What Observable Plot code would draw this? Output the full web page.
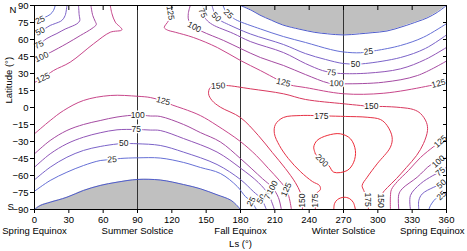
<!DOCTYPE html>
<html><head><meta charset="utf-8">
<script src="https://cdn.jsdelivr.net/npm/d3@7"></script>
<script src="https://cdn.jsdelivr.net/npm/@observablehq/plot@0.6"></script>
<style>
html,body{margin:0;padding:0;background:#fff;}
</style></head><body><div id="chart"></div>
<script>
// ---- axis / tick data ----
const lsTicks = [0,30,60,90,120,150,180,210,240,270,300,330,360];
const latTicks = [90,75,60,45,30,15,0,-15,-30,-45,-60,-75,-90];
const seasonLs = [0,90,180,270];
const seasonNames = ["Spring Equinox","Summer Solstice","Fall Equinox","Winter Solstice"];
const seasonEndLs = [360];
const seasonEndNames = ["Spring Equinox"];
const seasonRules = [90,180,270];
const levels = [0,25,50,75,100,125,150,175,200];
const levelColors = ["#4f5ccc","#6670d6","#7a63c9","#9156b8","#a54ba2","#c8468a","#d9385e","#e63246","#ee2c38"];

// ---- polar night boundaries (Ls, lat) ----
const northNight = [[180,90],[190,85.5],[197,81.5],[207,77],[217,72.8],[232,69],[245,66.3],[256,65],[270,64],[284,65],[295,66],[308,67.5],[322,71.5],[335,76],[343,79],[352,84],[360,90]];
const southNight = [[0,-90],[5,-86.5],[13.7,-83.6],[28.3,-79.2],[42.8,-73.2],[57.4,-68.8],[72.1,-65.9],[90,-63.5],[110,-64],[130.3,-68],[144.9,-71.7],[159.5,-77],[171,-81.5],[176,-85.5],[180,-90]];

// ---- contour lines (Ls, lat) ----
const n25a = [[18.1,90],[16.6,85.6],[13.7,82.1],[9.4,79.7],[5,77.2],[0,75.3]];
const n50a = [[28.3,90],[26.8,81.2],[23.9,76.8],[18.1,74.1],[13.7,72.4],[9.4,69.7],[5,67.1],[0,64.4]];
const n75a = [[38.5,90],[39,82],[39.5,76.5],[37,73.8],[33,71.8],[26.8,69.2],[19.6,65.3],[10.8,60.9],[3.8,55.4],[0,53.4]];
const n100a = [[49.3,90],[50.9,81.2],[53.1,75.9],[54,73.2],[50.2,69.7],[40,63.5],[28.3,56.5],[13.7,48.5],[6.2,44.6],[0,41.5]];
const n125a = [[66.2,90],[67.7,82.7],[70.6,75.3],[76.4,68.6],[66.2,66.4],[51.6,56.2],[31.2,40],[16.6,32.6],[7.4,26],[0,22.1]];

const n25b = [[164.7,90],[166.7,85.6],[169.4,82.5],[172.9,79.4],[177.2,76.8],[197.4,69.3],[217.5,62.6],[236.7,57.4],[258.6,51.2],[269.9,49],[284.8,48.3],[291.8,49.4],[298.8,50.3],[319.8,54.7],[339.9,62],[360,74]];
const n50b = [[155.1,90],[156.7,84.7],[158.9,79.9],[162.4,76.8],[167.6,74.1],[188.6,64.9],[217.5,55.6],[236.7,47.6],[254.2,42.4],[269.9,38.8],[280.4,38.4],[289.2,38.8],[319.8,44.1],[341.6,52.1],[360,64]];
const n75b = [[147.5,90],[147.1,83.4],[150.1,77.6],[155.4,73.2],[173.7,65.3],[188.6,58.2],[217.5,48.5],[236.7,38.8],[251.6,32.6],[259.4,30.9],[267.3,30],[290.9,30.3],[319.8,34.1],[341.6,42.4],[360,53]];
const n100b = [[136.1,90],[134.4,82.9],[134.8,76.8],[139.6,71],[146.4,67.1],[165.3,59.1],[179.9,52.1],[197.4,44.1],[217.5,37.1],[236.7,29.1],[256.8,21.6],[263.8,21.2],[270.8,20.9],[304.9,22.3],[334.6,28.2],[360,41]];
const n125b = [[119.5,90],[118.7,83.5],[117.2,76.8],[113.4,70.6],[116,68.4],[123,66.4],[138.8,61.8],[159.8,52.9],[179.9,41.5],[197.4,32.6],[212.2,24.7],[217.5,22.1],[223.6,19.8],[236.7,17.6],[270.2,12.1],[305.2,12.6],[341.6,18.5],[353,21.2],[360,24]];

const s25 = [[0,-73.9],[13.7,-64.4],[28.3,-57.1],[42.8,-51.2],[57.4,-46.8],[67.9,-45.9],[74.9,-45],[90.1,-44.4],[109.9,-44.6],[130.3,-48.5],[144.9,-52.9],[162.4,-58.2],[177.2,-69.7],[184.2,-78.5],[189.5,-83],[193.9,-90]];
const s50 = [[0,-63.8],[13.7,-52.7],[28.3,-43.9],[42.8,-37.9],[57.4,-34.4],[72.1,-32.2],[78,-31.8],[90.1,-32],[109.9,-33.5],[130.3,-39.4],[159.5,-50.3],[179.9,-63.5],[191.2,-74.1],[198.2,-80.7],[202.6,-90]];
const s75 = [[0,-52.7],[13.7,-40.9],[28.3,-32],[42.8,-26.2],[57.4,-22.3],[72.1,-19.7],[88.9,-19.4],[101.2,-19.9],[109.9,-20.3],[130.3,-27.4],[159.5,-39.3],[179.9,-53.4],[195.6,-66.2],[204.4,-76.8],[209.6,-90]];
const s100 = [[0,-40.9],[13.7,-29.1],[28.3,-20.3],[42.8,-15],[57.4,-11.5],[72.1,-8.4],[90.2,-6.6],[101.2,-7.5],[109.9,-7.9],[130.3,-15],[144.9,-22.1],[162.4,-30.4],[179.9,-45],[199.1,-62.7],[207.8,-70.6],[213.1,-79.4],[215.7,-90]];
const s125 = [[0,-23.2],[13.7,-11.5],[25.4,-2.7],[42.8,6.2],[66.2,10.6],[90.1,9.9],[101.2,8.8],[112.5,5.7],[120.4,2.2],[130.3,-1.2],[144.9,-7.1],[159.5,-15.9],[179.9,-30],[193.9,-42.4],[204.4,-53.8],[214,-64.4],[220.1,-72.4],[222.7,-80.3],[224.5,-90]];

const r25 = [[360,-73.9],[355.6,-77.6],[350.4,-80.6],[346,-86.5],[344.6,-90]];
const r50 = [[360,-64.4],[355.6,-67.5],[348.9,-70.3],[338.8,-76.2],[335.8,-82.1],[335.8,-90]];
const r75 = [[360,-52.7],[354.7,-56.5],[347.5,-60.4],[337.3,-67.3],[328.5,-77.6],[328.5,-90]];
const r100 = [[360,-43.9],[353,-47.7],[346,-50.7],[334.4,-61.5],[321.3,-71.7],[318.3,-76.8],[318.3,-90]];
const r125 = [[360,-26.2],[354.7,-30],[348.9,-34.4],[337.3,-44.1],[326.8,-55.6],[317.1,-65.3],[311.9,-72.4],[311,-78.5],[311,-90]];

const c150 = [[234.1,-90],[234.1,-82.1],[232.3,-75],[227.9,-66.2],[219.2,-53.8],[207.8,-39.7],[195.6,-24.7],[179.9,-8.8],[162.4,0.3],[155.1,6.2],[152.1,12.1],[153.6,17.6],[160.6,19],[167.6,19.4],[188.6,16.5],[217.5,12.1],[236.7,7.1],[269.9,3.3],[284.8,1.8],[294.4,0.9],[304,0.9],[319.8,0],[331.1,-1.8],[337.3,-5.3],[342.5,-13.2],[343.4,-20.3],[339.9,-31.8],[333.8,-42.4],[325,-52.9],[316.3,-62.7],[308.4,-70.6],[304,-75.9],[302.3,-82.1],[302.3,-90]];
const c175 = [[245.4,-90],[245.4,-82.1],[246.3,-75.9],[249.8,-72.4],[249,-68.8],[242.8,-65.3],[232.3,-56.5],[221.8,-45],[214,-33.5],[209.6,-22.9],[210.5,-15],[217.5,-8.8],[232.3,-7.1],[243.7,-7.1],[250.7,-7.5],[255.9,-7.5],[271.7,-7.9],[290.7,-8.6],[302.3,-10.6],[308.1,-15.9],[312.5,-26.2],[311,-35],[299.4,-49.7],[290.7,-61.5],[286.3,-68.8],[287.7,-73.2],[290.9,-81.2],[291.8,-90]];
const c200loop = [[245.5,-40.9],[244,-35],[246.9,-29.1],[255.7,-24.7],[267.2,-23.2],[276.1,-27.6],[280.4,-37.9],[278.9,-48.3],[273.2,-55.6],[261.5,-57.1],[257.1,-51.2],[251.1,-46.8],[245.5,-40.9]];
const c200pole = [[261.5,-90],[262.2,-84.7],[264.8,-81.2],[270.2,-79.2],[275.1,-80.3],[278.6,-83.8],[280.4,-90]];

// ---- inline contour labels: Ls, lat, text, angle ----
const labelRows = [
  [5,77.2,"25",-25],[5,67.1,"50",-28],[3.8,55.4,"75",-28],[6.2,44.6,"100",-25],[7.4,26,"125",-25],
  [118.7,83.5,"125",80],[139.6,71,"100",28],[147.1,83.4,"75",65],[158.9,79.9,"50",45],[169.4,82.5,"25",45],
  [291.8,49.4,"25",-6],[280.4,38.4,"50",0],[259.4,30.9,"75",3],[263.8,21.2,"100",2],[217.5,22.1,"125",14],[353,21.2,"125",-15],
  [160.6,19,"150",-3],[294.4,0.9,"150",0],[234.1,-82.1,"150",-90],[302.3,-82.1,"150",90],
  [250.7,-7.5,"175",0],[245.4,-82.1,"175",-90],[290.9,-81.2,"175",90],
  [251.1,-46.8,"200",45],
  [67.9,-45.9,"25",-3],[78,-31.8,"50",0],[88.9,-19.4,"75",0],[90.2,-6.6,"100",0],[112.5,5.7,"125",15],
  [189.5,-83,"25",-60],[198.2,-80.7,"50",-60],[204.4,-76.8,"75",-65],[207.8,-70.6,"100",-60],[220.1,-72.4,"125",-65],
  [354.7,-30,"125",-42],[353,-47.7,"100",-42],[354.7,-56.5,"75",-40],[355.6,-67.5,"50",-40],[355.6,-77.6,"25",-45]
];

// ---- build tables for the library ----
const pieces = [
  [0,northNight],[0,southNight],
  [25,n25a],[50,n50a],[75,n75a],[100,n100a],[125,n125a],
  [25,n25b],[50,n50b],[75,n75b],[100,n100b],[125,n125b],
  [25,s25],[50,s50],[75,s75],[100,s100],[125,s125],
  [25,r25],[50,r50],[75,r75],[100,r100],[125,r125],
  [150,c150],[175,c175],[200,c200loop],[200,c200pole]
];
const lineRows = [];
pieces.forEach(([level, pts], k) => pts.forEach(([Ls, lat]) => lineRows.push({seg: k, level, Ls, lat})));
const north = northNight.map(([Ls, lat]) => ({Ls, lat}));
const south = southNight.map(([Ls, lat]) => ({Ls, lat}));
const labels = labelRows.map(([Ls, lat, text, angle]) => ({Ls, lat, text, angle}));

const FS = 9.5;
const chart = Plot.plot({
  width: 467, height: 251,
  marginLeft: 34, marginRight: 21, marginTop: 5, marginBottom: 42,
  style: {fontFamily: "'Liberation Sans', Arial, sans-serif", fontSize: FS + "px", background: "#fff", color: "#000", overflow: "visible"},
  x: {domain: [0, 360]},
  y: {domain: [-90, 90]},
  color: {type: "ordinal", domain: levels, range: levelColors},
  marks: [
    Plot.areaY(north, {x: "Ls", y1: "lat", y2: 90, fill: "#c0c0c0", curve: "catmull-rom"}),
    Plot.areaY(south, {x: "Ls", y1: -90, y2: "lat", fill: "#c0c0c0", curve: "catmull-rom"}),
    Plot.ruleX(seasonRules, {x: d => d, stroke: "#333", strokeWidth: 1}),
    Plot.line(lineRows, {x: "Ls", y: "lat", z: "seg", stroke: "level", strokeWidth: 1, curve: "catmull-rom"}),
    Plot.text(labels, {x: "Ls", y: "lat", text: "text", rotate: "angle", fontSize: 8.5, fill: "#1a1a1a", stroke: "#fff", strokeWidth: 3, paintOrder: "stroke"}),
    Plot.frame({stroke: "#000", strokeWidth: 1}),
    Plot.axisX(lsTicks, {anchor: "bottom", tickSize: 4, tickPadding: 3, label: null, fontSize: FS}),
    Plot.axisX(lsTicks, {anchor: "top", tickSize: -4, tickFormat: () => "", label: null}),
    Plot.axisY(latTicks, {anchor: "left", tickSize: 4, tickPadding: 2, label: null, fontSize: FS}),
    Plot.axisY(latTicks, {anchor: "right", tickSize: -4, tickFormat: () => "", label: null}),
    Plot.text(seasonLs, {x: d => d, text: (d, i) => seasonNames[i], frameAnchor: "bottom", dy: 17.5, lineAnchor: "top", fontSize: FS}),
    Plot.text(seasonEndLs, {x: d => d, text: (d, i) => seasonEndNames[i], frameAnchor: "bottom", dy: 17.5, dx: 18, lineAnchor: "top", textAnchor: "end", fontSize: FS}),
    Plot.text(["Ls (°)"], {text: d => d, frameAnchor: "bottom", dy: 31, lineAnchor: "top", fontSize: FS}),
    Plot.text(["Latitude (°)"], {text: d => d, frameAnchor: "left", dx: -26, dy: -4, rotate: -90, fontSize: FS}),
    Plot.text(["N"], {text: d => d, frameAnchor: "top-left", dx: -25, dy: 1, fontSize: FS}),
    Plot.text(["S"], {text: d => d, frameAnchor: "bottom-left", dx: -27, fontSize: FS})
  ]
});
document.getElementById("chart").append(chart);
</script>
</body></html>
